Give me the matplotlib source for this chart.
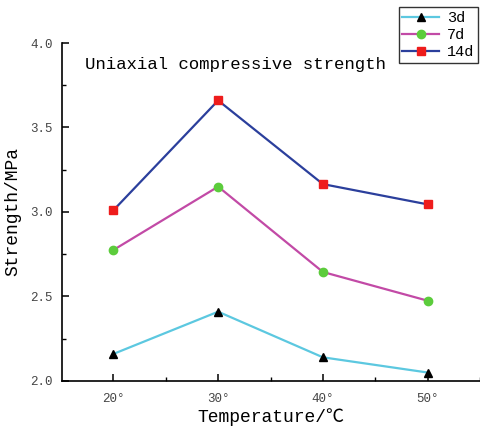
import numpy as np
import matplotlib
matplotlib.use("Agg")
from matplotlib import pyplot as plt
from matplotlib.ticker import MultipleLocator, AutoMinorLocator

fams = ['Liberation Mono', 'Noto Sans CJK SC', 'DejaVu Sans']
plt.rcParams['font.family'] = fams

# data
temps = [20, 30, 40, 50]
temp_labels = ['20°', '30°', '40°', '50°']
s3d = [2.16, 2.41, 2.14, 2.05]
s7d = [2.775, 3.15, 2.645, 2.475]
s14d = [3.01, 3.66, 3.165, 3.045]

fig = plt.figure(figsize=(4.81, 4.30), dpi=100)
ax = fig.add_axes([0.129, 0.114, 0.869, 0.786])

ax.plot(temps, s3d, color='#5cc8e0', lw=1.6, marker='^', ms=6,
        mfc='black', mec='black', label='3d')
ax.plot(temps, s7d, color='#c24aa6', lw=1.6, marker='o', ms=6,
        mfc='#5ccc3c', mec='#5ccc3c', label='7d')
ax.plot(temps, s14d, color='#2b3f9c', lw=1.6, marker='s', ms=5.5,
        mfc='#ee1c1c', mec='#ee1c1c', label='14d')

ax.set_xlim(15.1, 55)
ax.set_ylim(2.0, 4.0)
ax.set_xticks(temps)
ax.set_xticklabels(temp_labels)
ax.xaxis.set_minor_locator(MultipleLocator(5))
ax.yaxis.set_major_locator(MultipleLocator(0.5))
ax.yaxis.set_minor_locator(AutoMinorLocator(2))
ax.yaxis.set_major_formatter(plt.FuncFormatter(lambda v, p: '%.1f' % v))

for s in ['top', 'right']:
    ax.spines[s].set_visible(False)
for s in ['left', 'bottom']:
    ax.spines[s].set_linewidth(1.2)

ax.tick_params(which='major', direction='in', length=5, width=1.1,
               labelsize=9, colors='black', labelcolor='#444444')
ax.tick_params(axis='y', which='major', pad=6.5)
ax.tick_params(axis='x', which='major', pad=9)
ax.tick_params(which='minor', direction='in', length=3, width=1.0)

ax.set_xlabel('Temperature/℃', fontsize=13, labelpad=2)
ax.set_ylabel('Strength/MPa', fontsize=13)
ax.yaxis.set_label_coords(-0.098, 0.5)

ax.text(0.055, 0.935, 'Uniaxial compressive strength', transform=ax.transAxes,
        fontsize=12.5, va='center', ha='left')

leg = fig.legend(loc='upper right', bbox_to_anchor=(1.0, 0.99),
                 prop={'family': fams, 'size': 11},
                 frameon=True, fancybox=False, edgecolor='black',
                 handlelength=2.4, borderpad=0.25, labelspacing=0.2,
                 handletextpad=0.5, borderaxespad=0.2)
leg.get_frame().set_linewidth(1.0)

fig.savefig('out.png', dpi=100)
